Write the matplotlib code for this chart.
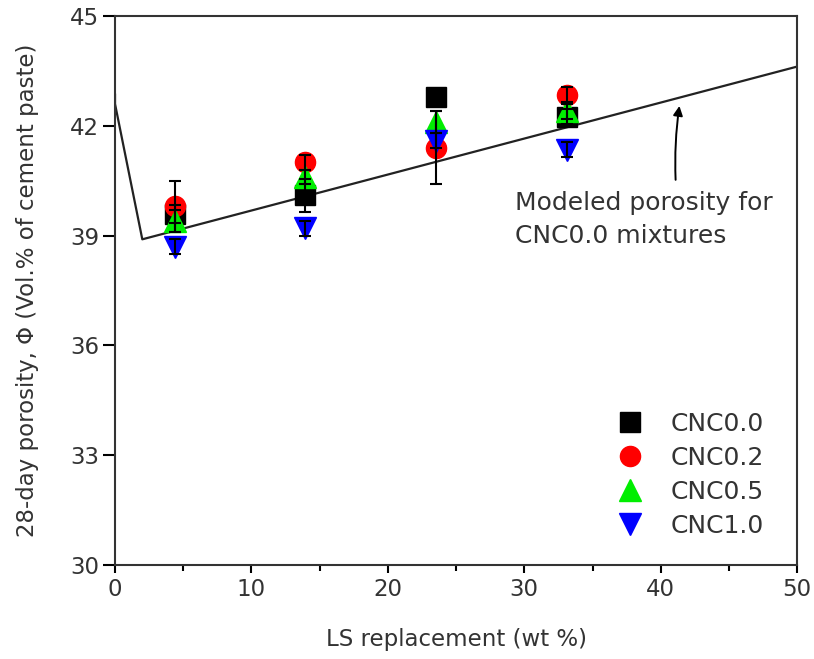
import matplotlib
matplotlib.use("Agg")
import matplotlib.pyplot as plt
from matplotlib.ticker import MultipleLocator

plt.rcParams['font.family'] = ['DejaVu Sans']

ls_x = [4.4, 13.9, 23.5, 33.1]
cnc00 = [39.6, 40.1, 42.8, 42.25]
cnc00_err = [0.25, 0.45, 0.2, 0.2]
cnc02 = [39.8, 41.0, 41.4, 42.85]
cnc02_err = [0.7, 0.2, 1.0, 0.2]
cnc05 = [39.4, 40.6, 42.1, 42.4]
cnc05_err = [0.3, 0.2, 0.3, 0.2]
cnc10 = [38.7, 39.2, 41.6, 41.35]
cnc10_err = [0.2, 0.2, 0.2, 0.2]

model_x = [0.0, 0.0, 2.0, 50.0]
model_y = [42.85, 42.6, 38.9, 43.62]

FS = 16.5
FS2 = 18
TXT = '#333333'

fig = plt.figure(figsize=(8.14, 6.59), dpi=100)
ax = fig.add_axes([0.1413, 0.1426, 0.838, 0.833])

ax.plot(model_x, model_y, color='#222222', lw=1.6, zorder=2)

series = [
    ('CNC0.0', cnc00, cnc00_err, 's', '#000000', 14),
    ('CNC0.2', cnc02, cnc02_err, 'o', '#ff0000', 14.5),
    ('CNC0.5', cnc05, cnc05_err, '^', '#00ee00', 15.5),
    ('CNC1.0', cnc10, cnc10_err, 'v', '#0000ff', 15.5),
]
handles = []
for name, y, e, m, c, ms in series:
    h, = ax.plot(ls_x, y, ls='none', marker=m, color=c, ms=ms, mec=c, zorder=3, label=name)
    ax.errorbar(ls_x, y, yerr=e, fmt='none', ecolor='black', elinewidth=1.5,
                capsize=4.3, capthick=1.5, zorder=4)
    handles.append(h)

ax.set_xlim(0, 50)
ax.set_ylim(30, 45)
ax.xaxis.set_major_locator(MultipleLocator(10))
ax.xaxis.set_minor_locator(MultipleLocator(5))
ax.yaxis.set_major_locator(MultipleLocator(3))
ax.tick_params(axis='both', which='major', direction='out', width=1.5,
               labelsize=FS, labelcolor=TXT, top=False, right=False, pad=3)
ax.tick_params(axis='x', which='major', length=6)
ax.tick_params(axis='y', which='major', length=8.5)
ax.tick_params(axis='x', which='minor', direction='out', length=4, width=1.5)
for s in ax.spines.values():
    s.set_linewidth(1.5)
    s.set_color('#333333')

ax.set_xlabel('LS replacement (wt %)', fontsize=FS, color=TXT, labelpad=20)
ax.set_ylabel('28-day porosity, Φ (Vol.% of cement paste)', fontsize=FS,
              color=TXT, labelpad=22)

ax.annotate('', xy=(41.4, 42.62), xytext=(41.1, 40.45),
            arrowprops=dict(arrowstyle='-|>', color='black', lw=1.4,
                            connectionstyle='arc3,rad=-0.05', mutation_scale=14))
ax.text(29.3, 40.22, 'Modeled porosity for\nCNC0.0 mixtures', fontsize=FS2,
        color=TXT, ha='left', va='top', linespacing=1.45)

ax.legend(handles=handles, loc='lower right', bbox_to_anchor=(0.952, 0.05),
          frameon=False, fontsize=FS2, labelcolor=TXT, handletextpad=0.64,
          labelspacing=0.4, borderpad=0, borderaxespad=0)

fig.savefig('out.png', dpi=100)
